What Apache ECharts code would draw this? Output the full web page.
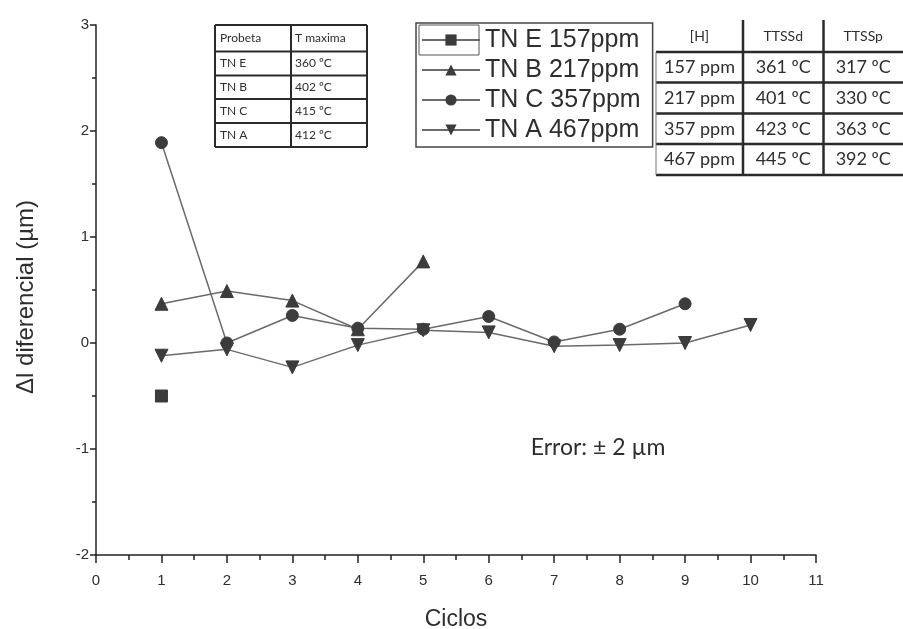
<!DOCTYPE html>
<html>
<head>
<meta charset="utf-8">
<style>
  html, body { margin: 0; padding: 0; background: #fff; }
  #chart { width: 903px; height: 629px; }
</style>
<script src="https://cdn.jsdelivr.net/npm/echarts@6/dist/echarts.min.js"></script>
</head>
<body>
<div id="chart"></div>
<script>
// Cycle numbers on the x axis
const ciclos = [1, 2, 3, 4, 5, 6, 7, 8, 9, 10];

// Differential length change (µm) per cycle for each specimen
const tnE = [-0.50];
const tnB = [0.37, 0.49, 0.40, 0.13, 0.77];
const tnC = [1.89, 0.00, 0.26, 0.14, 0.13, 0.25, 0.01, 0.13, 0.37];
const tnA = [-0.12, -0.06, -0.23, -0.02, 0.12, 0.10, -0.03, -0.02, 0.00, 0.17];

const seriesNames = ['TN E 157ppm', 'TN B 217ppm', 'TN C 357ppm', 'TN A 467ppm'];

// Max temperature table
const probetas = ['TN E', 'TN B', 'TN C', 'TN A'];
const tMaxima = ['360 ºC', '402 ºC', '415 ºC', '412 ºC'];

// Hydrogen concentration vs. TTSSd / TTSSp table
const hConc = ['157 ppm', '217 ppm', '357 ppm', '467 ppm'];
const ttssd = ['361 ºC', '401 ºC', '423 ºC', '445 ºC'];
const ttssp = ['317 ºC', '330 ºC', '363 ºC', '392 ºC'];

const xTicks = [0, 1, 2, 3, 4, 5, 6, 7, 8, 9, 10, 11];
const yTicks = [-2, -1, 0, 1, 2, 3];

function pairs(vals) {
  return vals.map((v, i) => [ciclos[i], v]);
}

const LINE = '#6a6a6a';
const MARK = '#3c3c3c';
const INK = '#2e2e2e';
const TABLE_FONT = 'Lato';

function baseSeries(name, data, symbol, size, rotate) {
  return {
    name: name,
    type: 'line',
    data: data,
    symbol: symbol,
    symbolSize: size,
    symbolRotate: rotate || 0,
    showAllSymbol: true,
    lineStyle: { color: LINE, width: 1.5 },
    itemStyle: { color: MARK, borderColor: MARK },
    emphasis: { disabled: true },
    z: 3
  };
}

// ---- tables drawn as graphic groups ----
function hLine(x1, x2, y, w, c) {
  return { type: 'line', shape: { x1: x1, y1: y, x2: x2, y2: y }, style: { stroke: c, lineWidth: w }, silent: true };
}
function vLine(x, y1, y2, w, c) {
  return { type: 'line', shape: { x1: x, y1: y1, x2: x, y2: y2 }, style: { stroke: c, lineWidth: w }, silent: true };
}
function txt(x, y, s, size, align) {
  return {
    type: 'text', x: x, y: y, silent: true,
    style: { text: s, fill: INK, font: size + 'px ' + TABLE_FONT, align: align || 'left', verticalAlign: 'middle' }
  };
}

const graphics = [];

// Table: Probeta / T maxima
(function () {
  const xs = [215, 291, 367];
  const ys = [25, 51.5, 75.5, 99, 123, 147];
  ys.forEach(y => graphics.push(hLine(xs[0], xs[2], y, 2, '#2a2a2a')));
  xs.forEach(x => graphics.push(vLine(x, ys[0], ys[5], 2, '#2a2a2a')));
  graphics.push(txt(220, (ys[0] + ys[1]) / 2, 'Probeta', 12));
  graphics.push(txt(295, (ys[0] + ys[1]) / 2, 'T maxima', 12));
  probetas.forEach((p, i) => {
    const cy = (ys[i + 1] + ys[i + 2]) / 2;
    graphics.push(txt(220, cy, p, 12));
    graphics.push(txt(295, cy, tMaxima[i], 12));
  });
})();

// Table: [H] / TTSSd / TTSSp
(function () {
  const xs = [656, 743, 823.5, 903];
  const ys = [20, 52, 82.5, 113.5, 144, 175];
  for (let i = 1; i < ys.length; i++) graphics.push(hLine(xs[0], xs[3], ys[i], 2.5, '#2a2a2a'));
  graphics.push(vLine(xs[0], ys[1], ys[5], 1, '#777'));
  graphics.push(vLine(xs[1], ys[0], ys[5], 2.5, '#2a2a2a'));
  graphics.push(vLine(xs[2], ys[0], ys[5], 2.5, '#2a2a2a'));
  const cx = [(xs[0] + xs[1]) / 2, (xs[1] + xs[2]) / 2, (xs[2] + xs[3]) / 2];
  const hy = (ys[0] + ys[1]) / 2;
  graphics.push(txt(cx[0], hy, '[H]', 14, 'center'));
  graphics.push(txt(cx[1], hy, 'TTSSd', 14, 'center'));
  graphics.push(txt(cx[2], hy, 'TTSSp', 14, 'center'));
  hConc.forEach((h, i) => {
    const cy = (ys[i + 1] + ys[i + 2]) / 2;
    graphics.push(txt(cx[0], cy, h, 18, 'center'));
    graphics.push(txt(cx[1], cy, ttssd[i], 18, 'center'));
    graphics.push(txt(cx[2], cy, ttssp[i], 18, 'center'));
  });
})();

// Frame around the first legend key
graphics.push({
  type: 'rect', shape: { x: 419, y: 25, width: 60, height: 30 },
  style: { fill: 'none', stroke: '#555', lineWidth: 1 }, silent: true, z: 100
});

// Error note
graphics.push({
  type: 'text', x: 598, y: 448, silent: true,
  style: { text: 'Error: ± 2 µm', fill: INK, font: '23px ' + TABLE_FONT, align: 'center', verticalAlign: 'middle' }
});

const chart = echarts.init(document.getElementById('chart'), null, { renderer: 'canvas' });

chart.setOption({
  animation: false,
  backgroundColor: '#fff',
  grid: { left: 96, right: 87, top: 25, bottom: 74, containLabel: false, outerBoundsMode: 'none' },
  xAxis: {
    type: 'value',
    min: xTicks[0], max: xTicks[xTicks.length - 1], interval: 1,
    name: 'Ciclos', nameLocation: 'middle', nameGap: 53,
    nameTextStyle: { fontFamily: 'Liberation Sans', fontSize: 23, color: INK },
    axisLine: { show: true, onZero: false, lineStyle: { color: '#222', width: 1.5 } },
    axisTick: { show: true, inside: false, length: 8, lineStyle: { color: '#222', width: 1.5 } },
    minorTick: { show: true, splitNumber: 2, length: 5, lineStyle: { color: '#222', width: 1.5 } },
    axisLabel: { fontFamily: 'Liberation Sans', fontSize: 15, color: INK, margin: 18 },
    splitLine: { show: false }
  },
  yAxis: {
    type: 'value',
    min: yTicks[0], max: yTicks[yTicks.length - 1], interval: 1,
    name: 'Δl diferencial (µm)', nameLocation: 'middle', nameGap: 58,
    nameTextStyle: { fontFamily: 'Liberation Sans', fontSize: 24, color: INK, padding: [0, 14, 0, 0] },
    axisLine: { show: true, onZero: false, lineStyle: { color: '#222', width: 1.5 } },
    axisTick: { show: true, inside: false, length: 6, lineStyle: { color: '#222', width: 1.5 } },
    minorTick: { show: true, splitNumber: 2, length: 4, lineStyle: { color: '#222', width: 1.5 } },
    axisLabel: { fontFamily: 'Liberation Sans', fontSize: 15, color: INK, margin: 7 },
    splitLine: { show: false }
  },
  legend: {
    orient: 'vertical',
    left: 416, top: 23,
    padding: [2, 12, 2, 5],
    itemWidth: 58, itemHeight: 14, itemGap: 0,
    borderColor: '#444', borderWidth: 1.5,
    selectedMode: false,
    textStyle: { fontFamily: 'Liberation Sans', fontSize: 25, color: INK, lineHeight: 30 },
    data: seriesNames
  },
  graphic: graphics,
  series: [
    baseSeries(seriesNames[0], pairs(tnE), 'rect', 12),
    baseSeries(seriesNames[1], pairs(tnB), 'triangle', 13),
    baseSeries(seriesNames[2], pairs(tnC), 'circle', 12),
    baseSeries(seriesNames[3], pairs(tnA), 'triangle', 13, 180)
  ]
});
</script>
</body>
</html>
